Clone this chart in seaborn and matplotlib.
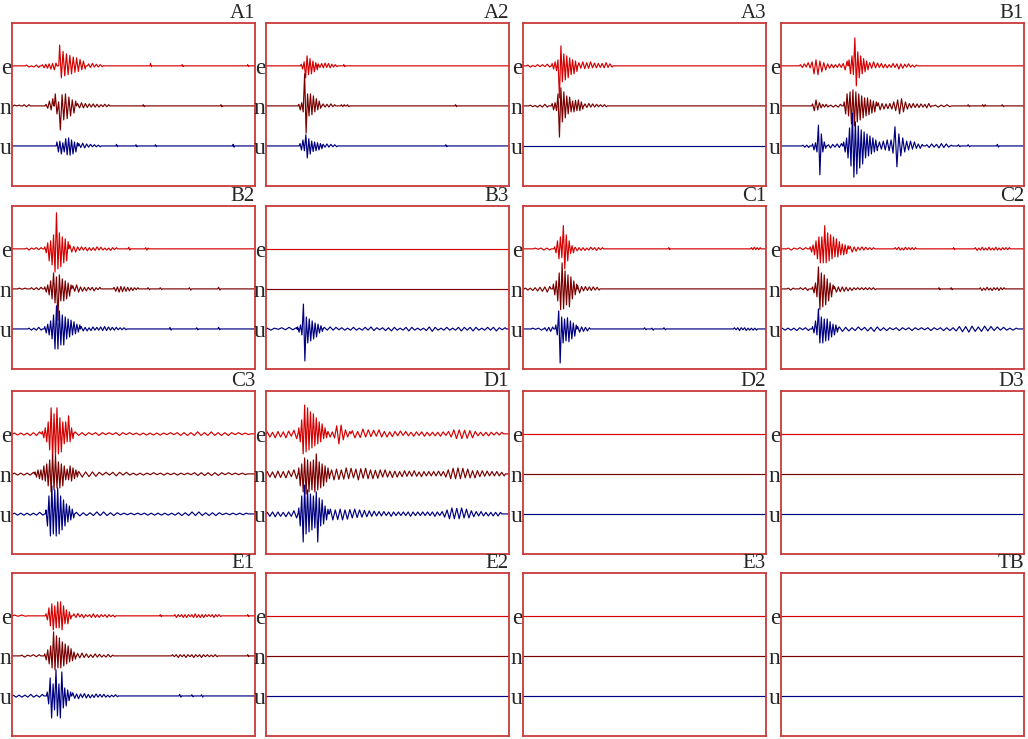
import matplotlib
matplotlib.use("Agg")
import matplotlib.pyplot as plt
import seaborn as sns
import pandas as pd

# Each trace is a list of wiggle segments: (start %, step %, peak amplitudes).
# Peaks alternate up/down; amplitude 1.0 = spacing between two traces.

A1_E = [(6, 1.0, [0.02, 0.03, 0.0, 0.03, 0.02, 0.04]),
        (12.5, 0.7, [0.03, 0.05, 0.04, 0.06, 0.05, 0.08, 0.06, 0.1, 0.07]),
        (19.6, 0.7, [0.52, 0.3, 0.36, 0.25, 0.3, 0.22, 0.26, 0.2, 0.22, 0.16, 0.2, 0.14, 0.16, 0.1, 0.12, 0.08]),
        (31.5, 0.8, [0.05, 0.04, 0.06, 0.03, 0.04, 0.03, 0.03, 0.02]),
        (57, 0.4, [0.06, 0.02]), (70, 0.4, [0.03, 0.02]), (97, 0.4, [0.03, 0.02])]
A1_N = [(1, 1.0, [0.02, 0.0, 0.02]), (5, 1.0, [0.03, 0.02, 0.03]),
        (14, 0.7, [0.04, 0.06, 0.12, 0.1, 0.18]),
        (17.8, 0.7, [0.3, 0.2, 0.1, 0.6, 0.28, 0.35, 0.3, 0.32, 0.22, 0.25, 0.15, 0.18, 0.12]),
        (27, 0.8, [0.06, 0.05, 0.08, 0.05, 0.06, 0.04, 0.05, 0.03, 0.05, 0.03, 0.04, 0.03, 0.03, 0.02, 0.04, 0.02, 0.03]),
        (54, 0.4, [0.03, 0.02]), (86, 0.4, [0.03, 0.02])]
A1_U = [(18.5, 0.6, [0.1, 0.15, 0.12, 0.2, 0.08, 0.15, 0.18, 0.22, 0.2, 0.23, 0.15, 0.2, 0.1, 0.15, 0.08]),
        (27.5, 0.8, [0.06, 0.04, 0.07, 0.05, 0.05, 0.03, 0.04, 0.02, 0.03, 0.02, 0.02, 0.02]),
        (43, 0.4, [0.04, 0.02]), (51, 0.4, [0.03, 0.02]), (59, 0.4, [0.03, 0.02]), (91, 0.4, [0.04, 0.03])]

A2_E = [(14.5, 0.6, [0.04, 0.08, 0.1, 0.3, 0.25, 0.22, 0.18, 0.2, 0.12, 0.15, 0.08, 0.1]),
        (21.5, 0.7, [0.05, 0.04, 0.06, 0.05, 0.07, 0.04, 0.06, 0.05, 0.04, 0.03, 0.03, 0.02]),
        (32, 0.4, [0.03, 0.02])]
A2_N = [(13.5, 0.6, [0.04, 0.1, 0.08, 0.15, 0.8, 0.68, 0.3, 0.25, 0.3, 0.22, 0.25, 0.15, 0.18, 0.1, 0.12, 0.06]),
        (23.5, 0.8, [0.05, 0.03, 0.04, 0.03, 0.05, 0.02, 0.03]),
        (31, 0.6, [0.03, 0.02, 0.03]), (33.5, 0.6, [0.03, 0.02]), (78, 0.4, [0.03, 0.02])]
A2_U = [(14, 0.6, [0.06, 0.1, 0.15, 0.12, 0.28, 0.3, 0.18, 0.2, 0.12, 0.14, 0.1, 0.12, 0.08, 0.1, 0.06, 0.07]),
        (23.5, 0.8, [0.04, 0.03, 0.05, 0.03, 0.04, 0.02, 0.03, 0.02]),
        (74, 0.4, [0.03, 0.02])]

A3_E = [(2, 1.0, [0.02, 0.03, 0.01, 0.02, 0.03, 0.02, 0.03, 0.02, 0.04, 0.03]),
        (12, 0.6, [0.06, 0.08, 0.1, 0.12, 0.15, 0.8, 0.5, 0.4, 0.3, 0.35, 0.25, 0.3, 0.2, 0.22, 0.15, 0.2, 0.12, 0.14]),
        (23, 0.8, [0.08, 0.06, 0.1, 0.07, 0.08, 0.06, 0.1, 0.05, 0.07, 0.05, 0.06, 0.04, 0.06, 0.05, 0.08, 0.04, 0.05, 0.03])]
A3_N = [(3, 1.0, [0.02, 0.02, 0.01, 0.03, 0.02, 0.03, 0.04, 0.03]),
        (12, 0.6, [0.06, 0.1, 0.08, 0.12, 0.3, 0.78, 0.45, 0.4, 0.35, 0.3, 0.25, 0.2, 0.22, 0.15, 0.12, 0.15, 0.14, 0.12, 0.15, 0.12, 0.1, 0.08]),
        (25.5, 0.8, [0.05, 0.04, 0.06, 0.03, 0.05, 0.03, 0.04, 0.02, 0.03, 0.02, 0.03, 0.02])]
A3_U = []

B1_E = [(8, 0.8, [0.03, 0.04, 0.05, 0.03, 0.08, 0.05, 0.1, 0.2, 0.15, 0.22, 0.12, 0.15, 0.08, 0.1, 0.05, 0.06, 0.04, 0.05, 0.03, 0.04, 0.05, 0.04, 0.06, 0.1, 0.12]),
        (28, 0.6, [0.15, 0.2, 0.25, 0.22, 0.7, 0.5, 0.35, 0.3, 0.25, 0.2, 0.18, 0.15, 0.12, 0.1]),
        (36.5, 0.8, [0.08, 0.06, 0.1, 0.05, 0.07, 0.04, 0.06, 0.05, 0.04, 0.05, 0.03, 0.04, 0.06, 0.04, 0.05, 0.08, 0.05, 0.06, 0.04, 0.03, 0.05, 0.03, 0.02, 0.03, 0.02])]
B1_N = [(13, 0.7, [0.05, 0.12, 0.15, 0.1, 0.08, 0.05, 0.04, 0.03, 0.04, 0.03]),
        (20.5, 1.0, [0.02, 0.03, 0.02, 0.03, 0.04]),
        (26, 0.6, [0.1, 0.2, 0.3, 0.25, 0.35, 0.45, 0.4, 0.5, 0.35, 0.4, 0.3, 0.35, 0.25, 0.3, 0.2, 0.25, 0.2, 0.22, 0.15, 0.18, 0.12, 0.15, 0.1]),
        (40, 0.8, [0.08, 0.1, 0.06, 0.08, 0.05, 0.07, 0.06, 0.08, 0.1, 0.12, 0.15, 0.2, 0.18, 0.15, 0.1, 0.08, 0.06, 0.05, 0.06, 0.04, 0.05, 0.04, 0.05, 0.03, 0.04, 0.05, 0.06, 0.03]),
        (63.5, 1.2, [0.02, 0.03, 0.02, 0.02, 0.03, 0.02]),
        (77, 0.5, [0.03, 0.02]), (83, 0.5, [0.03, 0.02, 0.03]), (91, 0.5, [0.03, 0.02])]
B1_U = [(9, 0.8, [0.02, 0.03, 0.02, 0.04]),
        (13, 0.6, [0.05, 0.1, 0.08, 0.15, 0.52, 0.72, 0.3, 0.15, 0.1, 0.06]),
        (19.5, 0.9, [0.03, 0.05, 0.04, 0.03, 0.05, 0.04, 0.06]),
        (25.8, 0.6, [0.1, 0.15, 0.2, 0.3, 0.45, 0.5, 0.82, 0.78, 0.6, 0.7, 0.5, 0.55, 0.4, 0.45, 0.35, 0.3, 0.3, 0.25, 0.25, 0.2, 0.2, 0.15, 0.15, 0.12]),
        (40.5, 0.8, [0.1, 0.08, 0.12, 0.1, 0.15, 0.12, 0.15, 0.18, 0.48, 0.52, 0.3, 0.25, 0.2, 0.15, 0.12, 0.1, 0.12, 0.08, 0.1, 0.06, 0.05, 0.06, 0.04]),
        (60, 1.0, [0.03, 0.04, 0.05, 0.03, 0.04, 0.05, 0.06, 0.04, 0.05, 0.03, 0.02]),
        (73, 0.6, [0.03, 0.02]), (77, 0.6, [0.03, 0.02]), (89, 0.5, [0.04, 0.03])]

B2_E = [(6, 1.0, [0.02, 0.03, 0.02, 0.01, 0.03, 0.02, 0.03]),
        (13.5, 0.6, [0.05, 0.1, 0.15, 0.3, 0.2, 0.4, 0.35, 0.58, 0.9, 0.5, 0.4, 0.45, 0.3, 0.35, 0.25, 0.3, 0.18]),
        (23.8, 0.8, [0.1, 0.08, 0.06, 0.08, 0.05, 0.04, 0.05, 0.03, 0.04, 0.05, 0.03, 0.04, 0.03, 0.04, 0.05, 0.03, 0.04, 0.03, 0.02, 0.03, 0.02, 0.04, 0.03, 0.02, 0.03]),
        (48, 0.5, [0.04, 0.03]), (55, 0.5, [0.03, 0.03, 0.02])]
B2_N = [(3, 1.2, [0.02, 0.01, 0.02]),
        (8, 1.0, [0.03, 0.02, 0.03, 0.02, 0.04]),
        (13.5, 0.6, [0.05, 0.08, 0.1, 0.15, 0.2, 0.25, 0.4, 0.35, 0.3, 0.78, 0.35, 0.3, 0.25, 0.3, 0.2, 0.25, 0.15, 0.18, 0.1]),
        (25, 0.8, [0.08, 0.06, 0.1, 0.08, 0.05, 0.06, 0.04, 0.05, 0.04, 0.03, 0.04, 0.05, 0.03, 0.02, 0.04]),
        (42, 0.7, [0.04, 0.06, 0.05, 0.08, 0.06, 0.07, 0.05, 0.06, 0.04, 0.05, 0.03, 0.04, 0.03, 0.02, 0.03]),
        (56, 0.6, [0.03, 0.02]), (61, 0.6, [0.03, 0.02]), (73, 0.6, [0.03, 0.03]), (85, 0.6, [0.04, 0.03])]
B2_U = [(7, 1.0, [0.02, 0.03, 0.02, 0.03, 0.04, 0.03]),
        (13.5, 0.6, [0.06, 0.1, 0.12, 0.15, 0.2, 0.25, 0.35, 0.5, 0.58, 0.5, 0.45, 0.4, 0.35, 0.4, 0.3, 0.25, 0.25, 0.2, 0.22, 0.15, 0.18, 0.12, 0.12, 0.08, 0.1]),
        (28.5, 0.8, [0.06, 0.05, 0.04, 0.05, 0.03, 0.04, 0.05, 0.03, 0.04, 0.03, 0.05, 0.04, 0.06, 0.04, 0.05, 0.03, 0.04, 0.03, 0.04, 0.02, 0.03, 0.02, 0.03, 0.02]),
        (65, 0.5, [0.04, 0.03]), (76, 0.5, [0.03, 0.02]), (85, 0.5, [0.04, 0.02])]

B3_E = []
B3_N = []
B3_U = [(0.5, 1.5, [0.02, 0.03, 0.02, 0.01, 0.03, 0.02, 0.04, 0.02, 0.03]),
        (13, 0.6, [0.05, 0.08, 0.1, 0.15, 0.62, 0.8, 0.3, 0.35, 0.25, 0.3, 0.2, 0.25, 0.15, 0.2, 0.12, 0.1, 0.08, 0.06]),
        (24, 1.2, [0.04, 0.03, 0.05, 0.03, 0.04, 0.02, 0.03, 0.03, 0.02, 0.03, 0.04, 0.03, 0.02, 0.03, 0.04, 0.03,
                   0.05, 0.04, 0.03, 0.02, 0.03, 0.04, 0.03, 0.05, 0.04, 0.03, 0.02, 0.03, 0.04, 0.05, 0.04, 0.03,
                   0.02, 0.03, 0.02, 0.04, 0.05, 0.06, 0.04, 0.03, 0.02, 0.03, 0.04, 0.03, 0.02, 0.03, 0.04, 0.05,
                   0.04, 0.03, 0.04, 0.05, 0.04, 0.03, 0.02, 0.03, 0.04, 0.03, 0.04, 0.05, 0.03, 0.02, 0.03])]

C1_E = [(5, 1.2, [0.02, 0.01, 0.02, 0.03, 0.02, 0.03]),
        (13, 0.6, [0.05, 0.1, 0.2, 0.25, 0.3, 0.22, 0.58, 0.5, 0.35, 0.3, 0.2, 0.12, 0.08, 0.1]),
        (21.5, 0.8, [0.04, 0.05, 0.03, 0.04, 0.03, 0.04, 0.02, 0.03, 0.04, 0.02, 0.03, 0.04, 0.03, 0.02, 0.03]),
        (60, 0.4, [0.03, 0.02]), (94, 0.6, [0.03, 0.02, 0.04, 0.02, 0.03, 0.02, 0.03])]
C1_N = [(1, 1.0, [0.02, 0.03, 0.02, 0.04, 0.03, 0.05, 0.04, 0.06, 0.05, 0.08, 0.06]),
        (12.5, 0.6, [0.12, 0.15, 0.2, 0.3, 0.4, 0.52, 0.65, 0.5, 0.45, 0.4, 0.35, 0.45, 0.3, 0.25, 0.2, 0.15, 0.12]),
        (22.5, 0.8, [0.08, 0.1, 0.06, 0.05, 0.06, 0.04, 0.05, 0.04, 0.05, 0.03, 0.04, 0.03])]
C1_U = [(4, 1.2, [0.02, 0.01, 0.02, 0.03]),
        (9, 0.8, [0.03, 0.05, 0.04, 0.06, 0.05]),
        (13.5, 0.6, [0.1, 0.15, 0.45, 0.85, 0.3, 0.35, 0.25, 0.3, 0.28, 0.32, 0.2, 0.25, 0.15, 0.18, 0.1]),
        (22.5, 0.8, [0.06, 0.08, 0.05, 0.06, 0.04, 0.05, 0.03]),
        (50, 0.6, [0.03, 0.02]), (53, 0.6, [0.02, 0.03]), (58, 0.6, [0.03, 0.02]),
        (87, 0.7, [0.03, 0.02, 0.03, 0.04, 0.03, 0.02, 0.03, 0.04, 0.02, 0.03, 0.02, 0.03, 0.02, 0.03])]

C2_E = [(3, 1.2, [0.02, 0.03, 0.02, 0.01, 0.03, 0.02, 0.03]),
        (12, 0.6, [0.05, 0.08, 0.1, 0.15, 0.2, 0.25, 0.3, 0.35, 0.3, 0.35, 0.58, 0.35, 0.4, 0.3, 0.35, 0.25, 0.3, 0.2,
                   0.25, 0.2, 0.18, 0.15, 0.12, 0.15, 0.1, 0.12, 0.08]),
        (28.5, 0.8, [0.06, 0.08, 0.05, 0.06, 0.04, 0.03, 0.05, 0.03, 0.04, 0.02, 0.03, 0.02, 0.03]),
        (47, 0.7, [0.03, 0.02, 0.04, 0.03, 0.02, 0.03, 0.04, 0.02, 0.03, 0.02, 0.03, 0.02, 0.03]),
        (71, 0.4, [0.03, 0.02]),
        (80, 0.7, [0.03, 0.04, 0.02, 0.03, 0.04, 0.03, 0.02, 0.03, 0.04, 0.03, 0.02, 0.03, 0.04, 0.03, 0.02, 0.03,
                   0.03, 0.02, 0.03, 0.02, 0.03])]
C2_N = [(3, 1.0, [0.02, 0.03, 0.02]),
        (8, 1.0, [0.03, 0.02, 0.03, 0.04]),
        (13, 0.6, [0.05, 0.1, 0.15, 0.2, 0.55, 0.52, 0.4, 0.45, 0.35, 0.4, 0.25, 0.3, 0.15, 0.2, 0.1]),
        (22, 0.8, [0.06, 0.08, 0.05, 0.07, 0.05, 0.06, 0.04, 0.05, 0.03, 0.04, 0.03, 0.02, 0.03, 0.02, 0.03, 0.02,
                   0.03, 0.02, 0.03, 0.02, 0.03, 0.02]),
        (65, 0.4, [0.03, 0.02]), (70, 0.4, [0.03, 0.02]),
        (82, 0.7, [0.03, 0.04, 0.02, 0.03, 0.04, 0.03, 0.02, 0.04, 0.03, 0.02, 0.03, 0.04, 0.03, 0.02, 0.03])]
C2_U = [(0.5, 1.2, [0.02, 0.03, 0.02, 0.03, 0.02, 0.04, 0.03, 0.02, 0.03, 0.04]),
        (13, 0.6, [0.06, 0.1, 0.2, 0.15, 0.5, 0.35, 0.3, 0.35, 0.25, 0.3, 0.25, 0.28, 0.18, 0.2, 0.12, 0.15, 0.1, 0.08]),
        (24, 1.3, [0.05, 0.06, 0.04, 0.05, 0.03, 0.04, 0.05, 0.03, 0.04, 0.05, 0.04, 0.06, 0.05, 0.04, 0.03, 0.04,
                   0.03, 0.02, 0.03, 0.04, 0.03, 0.02, 0.03, 0.04, 0.03, 0.02, 0.03, 0.02, 0.03, 0.04, 0.03, 0.02,
                   0.03, 0.04, 0.03, 0.04, 0.03, 0.05, 0.06, 0.07, 0.06, 0.08, 0.07, 0.06, 0.05, 0.06, 0.07, 0.05,
                   0.06, 0.04, 0.05, 0.03, 0.04, 0.03, 0.02, 0.03, 0.02])]

C3_E = [(1, 1.3, [0.02, 0.03, 0.02, 0.03, 0.02, 0.04, 0.03, 0.04, 0.05]),
        (12.5, 0.6, [0.06, 0.1, 0.15, 0.2, 0.3, 0.4, 0.65, 0.6, 0.5, 0.55, 0.65, 0.5, 0.4, 0.45, 0.3, 0.25, 0.3, 0.2,
                     0.45, 0.2, 0.15, 0.12]),
        (26, 1.4, [0.05, 0.04, 0.03, 0.04, 0.03, 0.02, 0.03, 0.04, 0.03, 0.02, 0.03, 0.02, 0.03, 0.04, 0.03, 0.02,
                   0.03, 0.02, 0.02, 0.03, 0.02, 0.03, 0.02, 0.03, 0.02, 0.03, 0.02, 0.02, 0.03, 0.02, 0.03, 0.04,
                   0.03, 0.04, 0.03, 0.04, 0.05, 0.04, 0.03, 0.04, 0.05, 0.04, 0.03, 0.04, 0.03, 0.04, 0.03, 0.02,
                   0.03, 0.02, 0.02, 0.02])]
C3_N = [(1, 1.3, [0.02, 0.03, 0.02, 0.03, 0.02, 0.03, 0.04]),
        (9.5, 0.6, [0.05, 0.08, 0.1, 0.12, 0.1, 0.15, 0.2, 0.18, 0.25, 0.3, 0.35, 0.45, 0.5, 0.4, 0.45, 0.35, 0.3,
                    0.35, 0.25, 0.3, 0.2, 0.15, 0.12, 0.15, 0.2, 0.18, 0.15, 0.12, 0.1, 0.08]),
        (27.5, 1.4, [0.06, 0.08, 0.05, 0.07, 0.05, 0.06, 0.04, 0.03, 0.04, 0.03, 0.04, 0.05, 0.04, 0.03, 0.04, 0.03,
                     0.02, 0.03, 0.02, 0.03, 0.02, 0.02, 0.03, 0.02, 0.02, 0.03, 0.02, 0.02, 0.02, 0.03, 0.02, 0.02,
                     0.02, 0.02, 0.03, 0.04, 0.03, 0.04, 0.03, 0.04, 0.03, 0.04, 0.03, 0.02, 0.03, 0.02, 0.02, 0.02,
                     0.02, 0.02])]
C3_U = [(1, 1.3, [0.02, 0.03, 0.02, 0.03, 0.02, 0.03, 0.02, 0.03, 0.04, 0.03]),
        (14, 0.6, [0.1, 0.3, 0.45, 0.55, 0.7, 0.5, 0.6, 0.55, 0.65, 0.5, 0.45, 0.4, 0.35, 0.3, 0.25, 0.2, 0.2, 0.15,
                   0.12, 0.1]),
        (26.5, 1.4, [0.04, 0.05, 0.03, 0.04, 0.03, 0.04, 0.05, 0.04, 0.05, 0.04, 0.03, 0.04, 0.03, 0.02, 0.02, 0.02,
                     0.02, 0.02, 0.02, 0.02, 0.02, 0.03, 0.02, 0.03, 0.02, 0.03, 0.02, 0.03, 0.02, 0.03, 0.03, 0.04,
                     0.03, 0.04, 0.05, 0.04, 0.05, 0.04, 0.03, 0.04, 0.03, 0.04, 0.03, 0.02, 0.02, 0.02, 0.02, 0.02,
                     0.02, 0.02, 0.02])]

D1_E = [(0.5, 1.1, [0.05, 0.08, 0.04, 0.1, 0.06, 0.08, 0.05, 0.1, 0.07, 0.06, 0.09, 0.12]),
        (13.5, 0.6, [0.15, 0.2, 0.35, 0.5, 0.72, 0.45, 0.65, 0.4, 0.55, 0.35, 0.5, 0.3, 0.4, 0.25, 0.3, 0.2, 0.25,
                     0.12, 0.15, 0.1]),
        (25.5, 0.9, [0.06, 0.08, 0.05, 0.1, 0.2, 0.25, 0.22, 0.15, 0.1, 0.08, 0.06]),
        (35.5, 1.1, [0.08, 0.1, 0.06, 0.09, 0.12, 0.08, 0.1, 0.07, 0.09, 0.06, 0.1, 0.08, 0.06, 0.08, 0.05, 0.07,
                     0.06, 0.05, 0.07, 0.04, 0.06, 0.05, 0.04, 0.06, 0.05, 0.04, 0.05, 0.06, 0.04, 0.05, 0.04, 0.05,
                     0.04, 0.06, 0.05, 0.04, 0.06, 0.08, 0.1, 0.12, 0.1, 0.12, 0.09, 0.11, 0.08, 0.1, 0.06, 0.05,
                     0.04, 0.05, 0.04, 0.05, 0.04, 0.03, 0.04, 0.03, 0.04])]
D1_N = [(0.5, 1.1, [0.06, 0.08, 0.05, 0.1, 0.07, 0.09, 0.06, 0.1, 0.08, 0.07, 0.1, 0.12]),
        (13.5, 0.6, [0.15, 0.3, 0.25, 0.45, 0.4, 0.5, 0.35, 0.45, 0.3, 0.4, 0.35, 0.45, 0.5, 0.4, 0.3, 0.35, 0.25,
                     0.3, 0.2, 0.2, 0.15, 0.12]),
        (27, 1.0, [0.1, 0.15, 0.12, 0.14, 0.1, 0.13, 0.15, 0.12, 0.14, 0.1, 0.12, 0.15, 0.13, 0.11, 0.14, 0.12,
                   0.1, 0.12, 0.09, 0.11, 0.1, 0.08, 0.1, 0.08, 0.07, 0.09, 0.07, 0.08, 0.06, 0.07, 0.08, 0.06,
                   0.07, 0.06, 0.08, 0.06, 0.05, 0.07, 0.06, 0.05, 0.06, 0.05, 0.06, 0.05, 0.07, 0.05, 0.06, 0.08,
                   0.1, 0.12, 0.14, 0.12, 0.15, 0.12, 0.14, 0.1, 0.12, 0.1, 0.08, 0.1, 0.08, 0.07, 0.08, 0.06,
                   0.07, 0.05, 0.06, 0.05, 0.06, 0.05, 0.04, 0.05])]
D1_U = [(0.5, 1.1, [0.04, 0.06, 0.05, 0.07, 0.05, 0.06, 0.04, 0.07, 0.05, 0.06, 0.08, 0.1]),
        (13.5, 0.6, [0.15, 0.3, 0.45, 0.7, 0.72, 0.5, 0.6, 0.45, 0.5, 0.4, 0.45, 0.35, 0.55, 0.7, 0.4, 0.3, 0.35,
                     0.25, 0.2, 0.15, 0.12]),
        (26.5, 1.0, [0.12, 0.15, 0.1, 0.14, 0.12, 0.15, 0.1, 0.13, 0.11, 0.1, 0.12, 0.09, 0.1, 0.08, 0.09, 0.07,
                     0.08, 0.06, 0.07, 0.05, 0.06, 0.05, 0.06, 0.04, 0.05, 0.06, 0.05, 0.04, 0.05, 0.04, 0.05, 0.04,
                     0.05, 0.06, 0.05, 0.04, 0.05, 0.04, 0.05, 0.04, 0.05, 0.04, 0.05, 0.06, 0.05, 0.04, 0.06, 0.08,
                     0.1, 0.12, 0.15, 0.12, 0.14, 0.12, 0.15, 0.1, 0.12, 0.1, 0.08, 0.07, 0.06, 0.05, 0.06, 0.05,
                     0.04, 0.05, 0.04, 0.05, 0.04, 0.05, 0.04])]

E1_E = [(1, 1.5, [0.02, 0.01, 0.02, 0.01]),
        (14, 0.6, [0.05, 0.1, 0.2, 0.25, 0.3, 0.35, 0.25, 0.3, 0.35, 0.3, 0.35, 0.35, 0.25, 0.2, 0.15, 0.2, 0.1, 0.08]),
        (25.5, 0.8, [0.05, 0.04, 0.06, 0.03, 0.04, 0.05, 0.03, 0.02, 0.03, 0.04, 0.05, 0.04, 0.03, 0.04, 0.03, 0.02,
                     0.03, 0.04, 0.03, 0.02, 0.02, 0.03]),
        (61, 0.4, [0.03, 0.02]),
        (67, 0.7, [0.03, 0.04, 0.03, 0.02, 0.03, 0.04, 0.03, 0.04, 0.03, 0.02, 0.03, 0.04, 0.05, 0.04, 0.03, 0.04,
                   0.03, 0.04, 0.03, 0.02, 0.03, 0.02, 0.03, 0.04, 0.03, 0.02, 0.03, 0.02]),
        (97, 0.4, [0.03, 0.02])]
E1_N = [(4, 1.2, [0.02, 0.03, 0.02, 0.01, 0.03, 0.02, 0.03]),
        (13.5, 0.6, [0.05, 0.1, 0.15, 0.2, 0.25, 0.3, 0.6, 0.35, 0.5, 0.3, 0.45, 0.3, 0.35, 0.25, 0.3, 0.2, 0.25,
                     0.15, 0.18, 0.12, 0.1, 0.08]),
        (27, 0.9, [0.06, 0.05, 0.07, 0.04, 0.05, 0.04, 0.03, 0.04, 0.05, 0.03, 0.04, 0.03, 0.02, 0.03, 0.04, 0.03,
                   0.02]),
        (66, 0.8, [0.03, 0.02, 0.03, 0.04, 0.03, 0.02, 0.03, 0.04, 0.03, 0.02, 0.03, 0.04, 0.03, 0.02, 0.03, 0.04,
                   0.03, 0.02, 0.03, 0.02, 0.02, 0.02, 0.03, 0.02]),
        (97, 0.4, [0.03, 0.02])]
E1_U = [(0.5, 1.2, [0.02, 0.03, 0.02, 0.03, 0.02, 0.03, 0.04, 0.03, 0.02, 0.03, 0.04]),
        (14.5, 0.6, [0.1, 0.2, 0.45, 0.55, 0.3, 0.35, 0.65, 0.5, 0.3, 0.55, 0.6, 0.3, 0.2, 0.25, 0.15, 0.12, 0.1]),
        (25, 0.8, [0.08, 0.06, 0.05, 0.07, 0.05, 0.04, 0.06, 0.05, 0.04, 0.05, 0.03, 0.04, 0.05, 0.03, 0.04, 0.03,
                   0.04, 0.03, 0.02, 0.03, 0.02, 0.02, 0.03, 0.02]),
        (69, 0.5, [0.04, 0.03]), (74, 0.5, [0.03, 0.02]), (78, 0.5, [0.03, 0.03])]

PANEL_NAMES = ["A1", "A2", "A3", "B1",
               "B2", "B3", "C1", "C2",
               "C3", "D1", "D2", "D3",
               "E1", "E2", "E3", "TB"]
COMPONENTS = ["e", "n", "u"]

TRACES = {
    "A1": [A1_E, A1_N, A1_U], "A2": [A2_E, A2_N, A2_U], "A3": [A3_E, A3_N, A3_U],
    "B1": [B1_E, B1_N, B1_U], "B2": [B2_E, B2_N, B2_U], "B3": [B3_E, B3_N, B3_U],
    "C1": [C1_E, C1_N, C1_U], "C2": [C2_E, C2_N, C2_U], "C3": [C3_E, C3_N, C3_U],
    "D1": [D1_E, D1_N, D1_U], "E1": [E1_E, E1_N, E1_U],
}

COLORS = {"e": "#d40000", "n": "#7a0000", "u": "#000080"}
OFFSETS = {"e": 2.0, "n": 1.0, "u": 0.0}
FRAME = "#c83a3a"


def build_trace(segments):
    """Turn wiggle segments into a zero-based polyline across 0..100"""
    xs, ys = [0.0], [0.0]
    for start, step, amps in sorted(segments):
        xs.append(start - step * 0.5)
        ys.append(0.0)
        for i, a in enumerate(amps):
            xs.append(start + i * step)
            ys.append(a if i % 2 == 0 else -a)
        xs.append(start + (len(amps) - 0.5) * step)
        ys.append(0.0)
    xs.append(100.0)
    ys.append(0.0)
    return xs, ys


sns.set_theme(style="white")
plt.rcParams["font.family"] = ["Liberation Serif", "DejaVu Serif"]

W, H = 1028, 739
fig = plt.figure(figsize=(W / 100, H / 100), dpi=100)

col_left = [12, 266, 523, 781]
row_top = [23, 206, 391, 573]
box_w, box_h = 243, 163

for idx, name in enumerate(PANEL_NAMES):
    r, c = divmod(idx, 4)
    ax = fig.add_axes([col_left[c] / W, 1 - (row_top[r] + box_h) / H, box_w / W, box_h / H])
    traces = TRACES.get(name, [[], [], []])
    for comp, segs in zip(COMPONENTS, traces):
        xs, ys = build_trace(segs)
        df = pd.DataFrame({"x": xs, "y": [v + OFFSETS[comp] for v in ys]})
        sns.lineplot(data=df, x="x", y="y", ax=ax, color=COLORS[comp], lw=0.85,
                     estimator=None, sort=False)
    ax.set_xlim(0, 100)
    ax.set_ylim(-1.0, 3.07)
    ax.set_xticks([])
    ax.set_yticks([2, 1, 0])
    ax.set_yticklabels(COMPONENTS)
    ax.tick_params(axis="y", length=0, pad=0.5, labelsize=17)
    ax.set_xlabel("")
    ax.set_ylabel("")
    for sp in ax.spines.values():
        sp.set_color(FRAME)
        sp.set_linewidth(1.3)
    ax.set_title(name, loc="right", fontsize=15, pad=1.5)

fig.savefig("out.png", dpi=100)
